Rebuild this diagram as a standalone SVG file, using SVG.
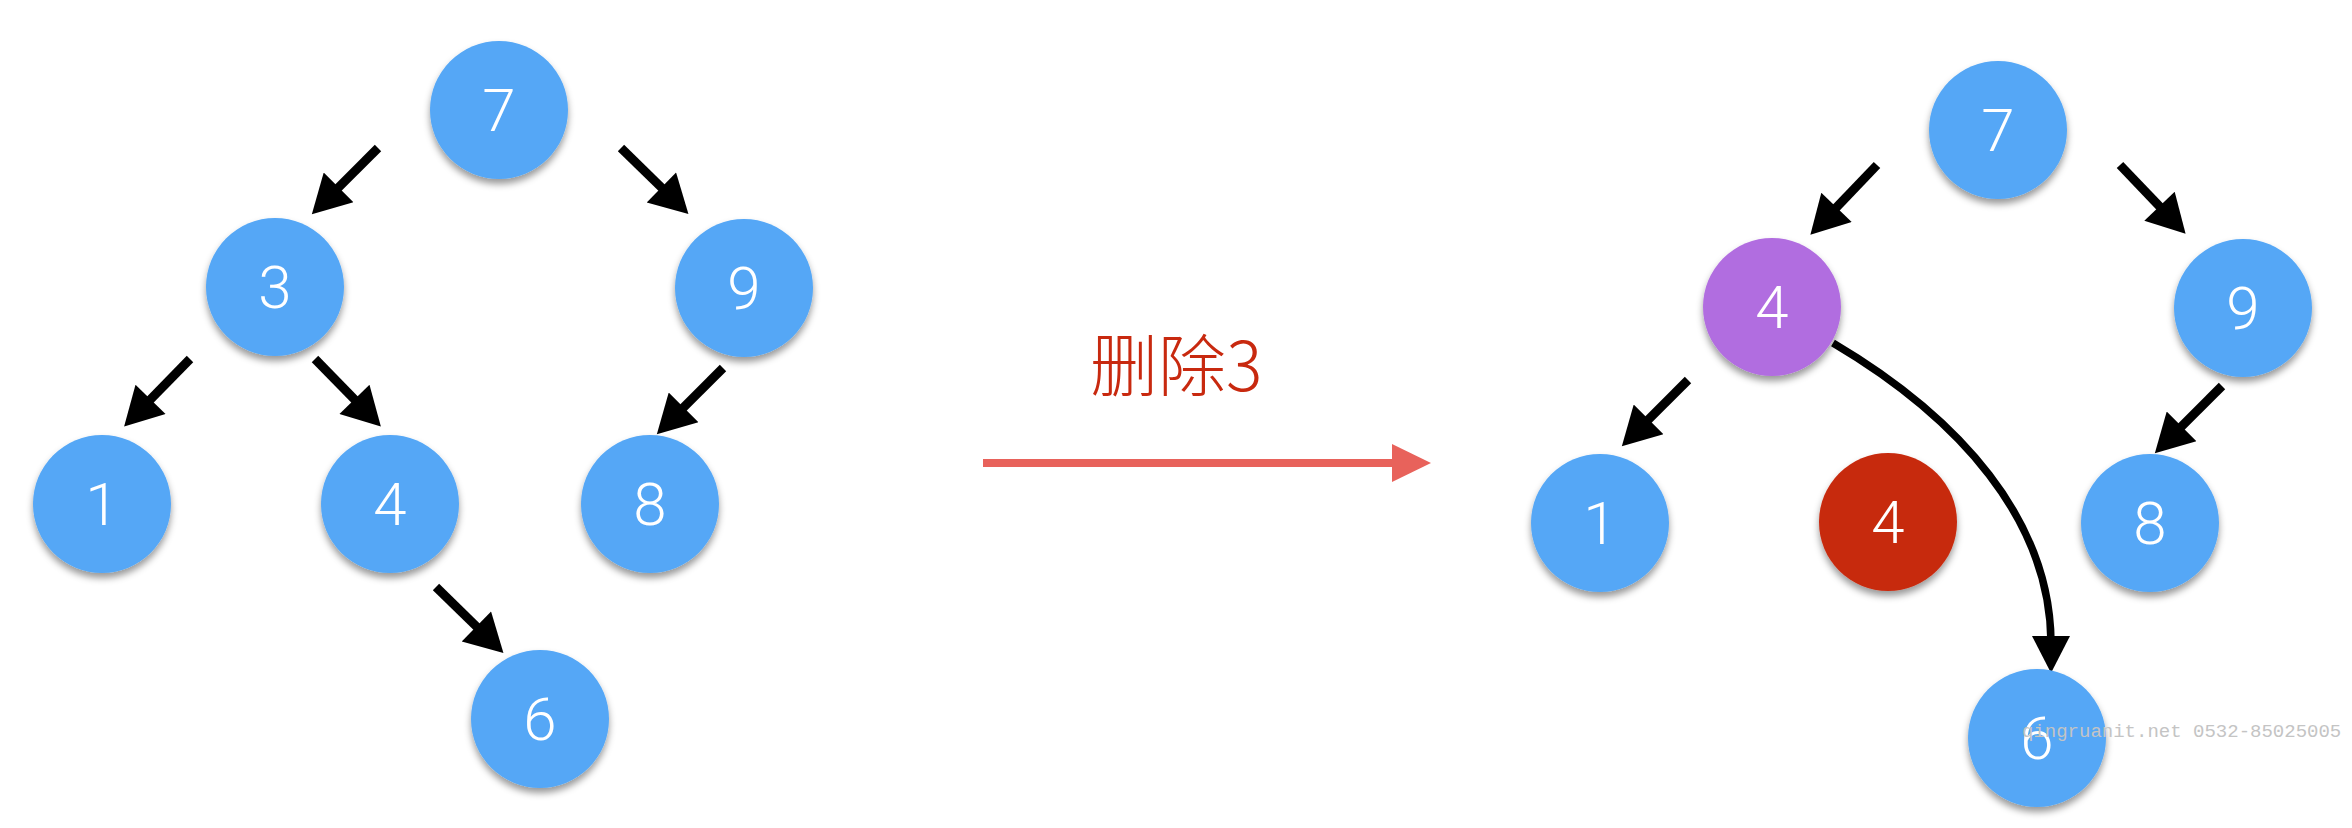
<svg xmlns="http://www.w3.org/2000/svg" width="2352" height="828" viewBox="0 0 2352 828">
<defs>
<filter id="sh" x="-30%" y="-30%" width="160%" height="170%">
<feDropShadow dx="0" dy="5" stdDeviation="3.5" flood-color="#000" flood-opacity="0.4"/>
</filter>
<marker id="ah" markerUnits="userSpaceOnUse" markerWidth="42" markerHeight="42" viewBox="0 -20 37 40" refX="4" refY="0" orient="auto">
<path d="M0,-20 L36,0 L0,20 Z" fill="#000"/>
</marker>
</defs>
<style>
.n{filter:url(#sh)}
.b{fill:#54A7F6}
.p{fill:#B16DE0}
.r{fill:#C7290C}
.t{font-family:"Roboto","Liberation Sans",sans-serif;font-weight:300;font-size:60px;fill:#fff;text-anchor:middle}
.e{stroke:#000;stroke-width:9;fill:none;marker-end:url(#ah)}
</style>
<rect width="2352" height="828" fill="#fff"/>
<g id="connectors">
<path class="e" d="M378,148 L335.6,190.4"/>
<path class="e" d="M621,148 L664.4,190.4"/>
<path class="e" d="M190,359 L147.6,402.4"/>
<path class="e" d="M315,359 L357.4,402.4"/>
<path class="e" d="M723,368 L680.6,410.4"/>
<path class="e" d="M436,587 L479.4,629.4"/>
<path class="e" d="M1877,165 L1833.6,210.4"/>
<path class="e" d="M2120,165 L2162.4,209.4"/>
<path class="e" d="M1688,380 L1645.6,422.4"/>
<path class="e" d="M2222,386 L2178.6,429.4"/>
<path d="M1833,343 C1960,418 2050,520 2051,642" stroke="#000" stroke-width="7.5" fill="none"/>
<path d="M2032,636 L2051,673 L2070,636 Z" fill="#000"/>
<g id="delete-arrow">
<line x1="983" y1="463" x2="1396" y2="463" stroke="#E8625B" stroke-width="8"/>
<path d="M1392,444 L1431,463 L1392,482 Z" fill="#E8625B"/>
</g>
</g>
<text id="label-delete" x="1090" y="391" font-family="'Noto Sans CJK SC','Noto Sans CJK JP',sans-serif" font-size="68" font-weight="300" fill="#C8290F">删除3</text>
<g id="L7" class="n"><circle class="b" cx="499" cy="110" r="69"/><text class="t" x="499" y="131">7</text></g>
<g id="L3" class="n"><circle class="b" cx="275" cy="287" r="69"/><text class="t" x="275" y="308">3</text></g>
<g id="L9" class="n"><circle class="b" cx="744" cy="288" r="69"/><text class="t" x="744" y="309">9</text></g>
<g id="L1" class="n"><circle class="b" cx="102" cy="504" r="69"/><text class="t" x="102" y="525">1</text></g>
<g id="L4" class="n"><circle class="b" cx="390" cy="504" r="69"/><text class="t" x="390" y="525">4</text></g>
<g id="L8" class="n"><circle class="b" cx="650" cy="504" r="69"/><text class="t" x="650" y="525">8</text></g>
<g id="L6" class="n"><circle class="b" cx="540" cy="719" r="69"/><text class="t" x="540" y="740">6</text></g>
<g id="R7" class="n"><circle class="b" cx="1998" cy="130" r="69"/><text class="t" x="1998" y="151">7</text></g>
<g id="R4" class="n"><circle class="p" cx="1772" cy="307" r="69"/><text class="t" x="1772" y="328">4</text></g>
<g id="R9" class="n"><circle class="b" cx="2243" cy="308" r="69"/><text class="t" x="2243" y="329">9</text></g>
<g id="R1" class="n"><circle class="b" cx="1600" cy="523" r="69"/><text class="t" x="1600" y="544">1</text></g>
<g id="R4red" class="n"><circle class="r" cx="1888" cy="522" r="69"/><text class="t" x="1888" y="543">4</text></g>
<g id="R8" class="n"><circle class="b" cx="2150" cy="523" r="69"/><text class="t" x="2150" y="544">8</text></g>
<g id="R6" class="n"><circle class="b" cx="2037" cy="738" r="69"/><text class="t" x="2037" y="759">6</text></g>
<text id="watermark" x="2022" y="737" font-family="'Liberation Mono',monospace" font-size="19" fill="#c4c4c4">qingruanit.net 0532-85025005</text>
</svg>
